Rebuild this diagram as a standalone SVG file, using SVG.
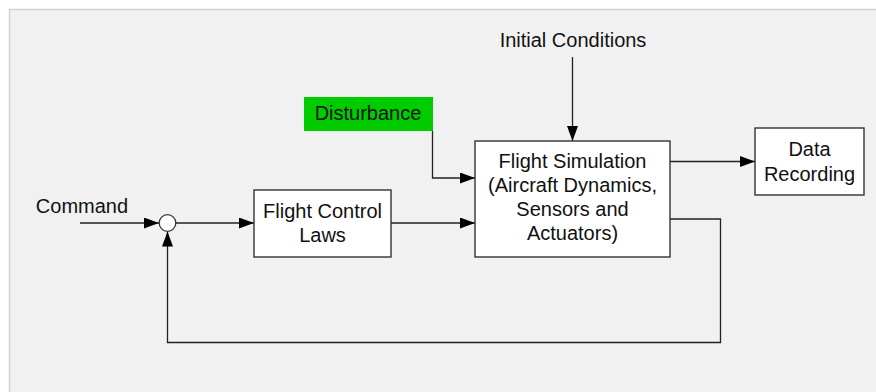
<svg xmlns="http://www.w3.org/2000/svg" width="876" height="392" viewBox="0 0 876 392">
<defs>
<marker id="ah" markerUnits="userSpaceOnUse" markerWidth="16" markerHeight="12" refX="15" refY="5.5" orient="auto">
<path d="M0,0 L15,5.5 L0,11 Z" fill="#000"/>
</marker>
<style>
text{font-family:"Liberation Sans",Arial,sans-serif;font-size:20px;fill:#111;text-anchor:middle}
.box{fill:#fff;stroke:#333;stroke-width:1.4}
.ln{fill:none;stroke:#222;stroke-width:1.3}
</style>
</defs>
<rect x="0" y="0" width="876" height="392" fill="#fff"/>
<rect x="9.5" y="9.5" width="880" height="400" fill="#f1f1f1" stroke="#d2d2d2" stroke-width="1.5"/>
<g id="connectors">
<path class="ln" d="M80,223 L159,223" marker-end="url(#ah)"/>
<path class="ln" d="M176,223 L254,223" marker-end="url(#ah)"/>
<path class="ln" d="M391,223 L475,223" marker-end="url(#ah)"/>
<path class="ln" d="M432.5,131 L432.5,178 L475,178" marker-end="url(#ah)"/>
<path class="ln" d="M572.5,57 L572.5,141" marker-end="url(#ah)"/>
<path class="ln" d="M670,161.5 L755,161.5" marker-end="url(#ah)"/>
<path class="ln" d="M670,219 L720.5,219 L720.5,342.5 L167.5,342.5 L167.5,231.5" marker-end="url(#ah)"/>
</g>
<g id="command"><text x="82" y="213">Command</text></g>
<g id="initial"><text x="573" y="47">Initial Conditions</text></g>
<g id="sum"><circle cx="167.5" cy="223" r="8.3" fill="#fff" stroke="#333" stroke-width="1.3"/></g>
<g id="disturbance"><rect x="304" y="97" width="129" height="34" fill="#00cc00"/><text x="368" y="120">Disturbance</text></g>
<g id="fcl"><rect class="box" x="254" y="190" width="137" height="67"/><text x="322.5" y="218">Flight Control</text><text x="322.5" y="242">Laws</text></g>
<g id="sim"><rect class="box" x="475" y="141" width="195" height="116"/>
<text x="572.5" y="168">Flight Simulation</text>
<text x="572.5" y="192">(Aircraft Dynamics,</text>
<text x="572.5" y="216">Sensors and</text>
<text x="572.5" y="240">Actuators)</text></g>
<g id="data"><rect class="box" x="755" y="128" width="109" height="67"/><text x="809.5" y="156">Data</text><text x="809.5" y="181">Recording</text></g>
</svg>
